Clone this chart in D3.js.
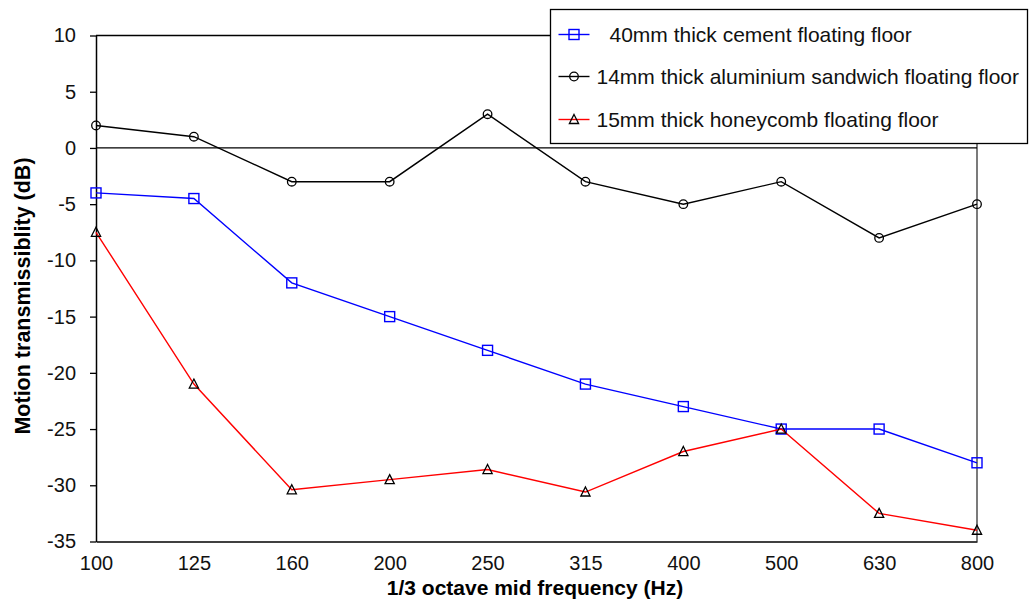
<!DOCTYPE html>
<html>
<head>
<meta charset="utf-8">
<script src="https://cdn.jsdelivr.net/npm/d3@7"></script>
<style>
  body { margin: 0; background: #fff; }
  text { font-family: "Liberation Sans", Arial, sans-serif; }
</style>
</head>
<body>
<div class="chart"></div>
<script>
// Motion transmissibility of three floating floors per 1/3 octave band
var freqs = ["100", "125", "160", "200", "250", "315", "400", "500", "630", "800"];
var cement = [-4, -4.5, -12, -15, -18, -21, -23, -25, -25, -28];
var aluminium = [2, 1, -3, -3, 3, -3, -5, -3, -8, -5];
var honeycomb = [-7.5, -21, -30.4, -29.5, -28.6, -30.6, -27, -25, -32.5, -34];
var yTicks = [10, 5, 0, -5, -10, -15, -20, -25, -30, -35];

var svgWidth = 1030;
var svgHeight = 604;

var margin = { top: 35.5, right: 53, bottom: 62.5, left: 96 };
var width = svgWidth - margin.left - margin.right;
var height = svgHeight - margin.top - margin.bottom;

var svg = d3.select(".chart")
  .append("svg")
  .attr("width", svgWidth)
  .attr("height", svgHeight);

var chart = svg.append("g")
  .attr("transform", "translate(" + margin.left + "," + margin.top + ")");

var x = d3.scalePoint().domain(freqs).range([0, width]).padding(0);
var y = d3.scaleLinear().domain([-35, 10]).range([height, 0]);

// frame: top and right border + zero line
chart.append("line")
  .attr("x1", 0).attr("x2", width).attr("y1", 0).attr("y2", 0)
  .attr("stroke", "#000").attr("stroke-width", 1.3);
chart.append("line")
  .attr("x1", width).attr("x2", width).attr("y1", 0).attr("y2", height)
  .attr("stroke", "#333").attr("stroke-width", 1.3);
chart.append("line")
  .attr("x1", 0).attr("x2", width).attr("y1", y(0)).attr("y2", y(0))
  .attr("stroke", "#000").attr("stroke-width", 1.3);

// Y axis (plain hyphen minus like the original)
var yAxis = d3.axisLeft(y).tickValues(yTicks).tickSize(6).tickSizeOuter(0)
  .tickFormat(function(d) { return String(d); });
var gy = chart.append("g").call(yAxis);
gy.select(".domain").attr("stroke", "#000").attr("stroke-width", 1.5);
gy.selectAll(".tick line").attr("stroke", "#000").attr("stroke-width", 1.3);
gy.selectAll(".tick text")
  .attr("x", -20)
  .attr("font-size", 20)
  .attr("font-family", "Liberation Sans, Arial, sans-serif")
  .attr("fill", "#111");

// X axis
var xAxis = d3.axisBottom(x).tickSize(0).tickSizeOuter(0);
var gx = chart.append("g")
  .attr("transform", "translate(0," + height + ")")
  .call(xAxis);
gx.select(".domain").attr("stroke", "#000").attr("stroke-width", 1.5);
gx.selectAll(".tick text")
  .attr("y", 28.5)
  .attr("dy", 0)
  .attr("font-size", 20)
  .attr("font-family", "Liberation Sans, Arial, sans-serif")
  .attr("fill", "#111");

// axis titles
svg.append("text")
  .attr("x", 535)
  .attr("y", 595)
  .attr("text-anchor", "middle")
  .attr("font-size", 21)
  .attr("font-weight", "bold")
  .text("1/3 octave mid frequency (Hz)");

svg.append("text")
  .attr("transform", "translate(30,296) rotate(-90)")
  .attr("text-anchor", "middle")
  .attr("font-size", 21.5)
  .attr("font-weight", "bold")
  .text("Motion transmissiblity (dB)");

var series = [
  { name: "40mm thick cement floating floor", values: cement, color: "#0000ff", marker: "square", markColor: "#0000ff", textX: 59 },
  { name: "14mm thick aluminium sandwich floating floor", values: aluminium, color: "#000", marker: "circle", markColor: "#000", textX: 46 },
  { name: "15mm thick honeycomb floating floor", values: honeycomb, color: "#ff0000", marker: "triangle", markColor: "#000", textX: 46 }
];

var line = d3.line()
  .x(function(d, i) { return x(freqs[i]); })
  .y(function(d) { return y(d); });

function drawMarker(g, type, color) {
  if (type === "square") {
    g.append("rect").attr("x", -5).attr("y", -5).attr("width", 10).attr("height", 10)
      .attr("fill", "none").attr("stroke", color).attr("stroke-width", 1.4);
  } else if (type === "circle") {
    g.append("circle").attr("r", 4.3)
      .attr("fill", "none").attr("stroke", color).attr("stroke-width", 1.3);
  } else {
    g.append("path").attr("d", "M0,-5L4.6,4L-4.6,4Z")
      .attr("fill", "none").attr("stroke", color).attr("stroke-width", 1.3);
  }
}

series.forEach(function(s) {
  chart.append("path")
    .datum(s.values)
    .attr("d", line)
    .attr("fill", "none")
    .attr("stroke", s.color)
    .attr("stroke-width", 1.4);

  s.values.forEach(function(v, i) {
    var g = chart.append("g")
      .attr("transform", "translate(" + x(freqs[i]) + "," + y(v) + ")");
    drawMarker(g, s.marker, s.markColor);
  });
});

// legend
var legend = svg.append("g").attr("transform", "translate(550.5,9.5)");
legend.append("rect")
  .attr("width", 477).attr("height", 134)
  .attr("fill", "#fff").attr("stroke", "#000").attr("stroke-width", 1.3);

var legendY = [25, 67, 110];
series.forEach(function(s, i) {
  var row = legend.append("g").attr("transform", "translate(0," + legendY[i] + ")");
  row.append("line").attr("x1", 8).attr("x2", 39).attr("y1", 0).attr("y2", 0)
    .attr("stroke", s.color).attr("stroke-width", 1.4);
  var m = row.append("g").attr("transform", "translate(23.5,0)");
  drawMarker(m, s.marker, s.markColor);
  row.append("text")
    .attr("x", s.textX)
    .attr("y", 0)
    .attr("dy", "0.35em")
    .attr("font-size", 21)
    .attr("fill", "#111")
    .text(s.name);
});
</script>
</body>
</html>
